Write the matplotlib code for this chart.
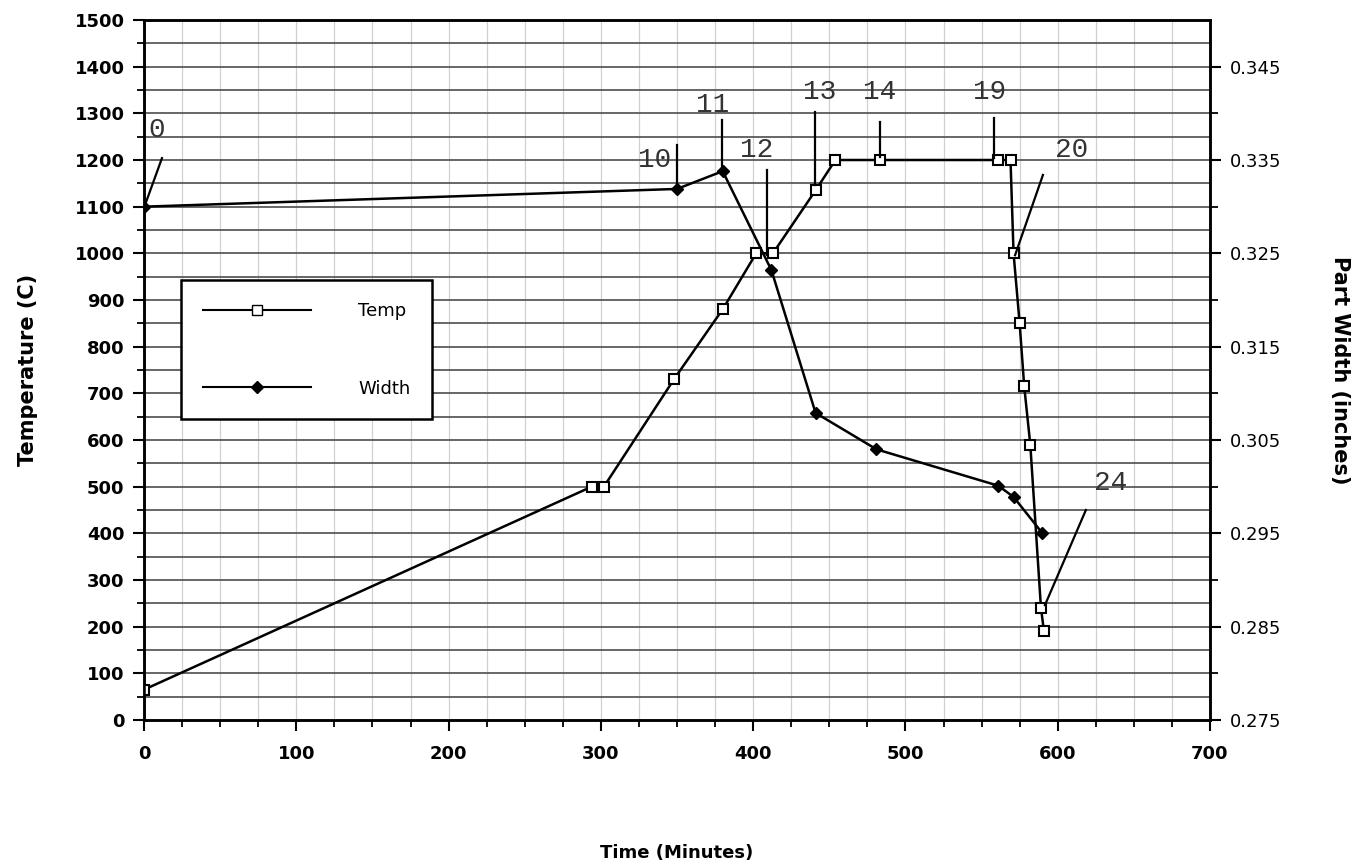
import matplotlib.pyplot as plt
from matplotlib.lines import Line2D
from matplotlib.ticker import MultipleLocator, FixedLocator
import numpy as np

# temperature profile (left axis)
temp_time = [0, 294, 302, 348, 380, 402, 413, 441, 454, 483, 561, 569, 571, 575, 578, 582, 589, 591]
temp_c = [65, 500, 500, 730, 880, 1000, 1000, 1135, 1200, 1200, 1200, 1200, 1000, 850, 715, 590, 240, 190]

# part width (right axis)
width_time = [0, 350, 380, 412, 441, 481, 561, 571, 590]
width_in = [0.330, 0.3319, 0.3338, 0.3232, 0.3079, 0.3040, 0.3001, 0.2989, 0.2950]

# step labels: text position, leader start, leader end (time, temp)
step_labels = ['0', '10', '11', '12', '13', '14', '19', '20', '24']
label_pos = [(8.5, 1264), (335, 1200), (373.5, 1318), (402.5, 1221), (443.5, 1346),
             (483.3, 1346), (555.5, 1346), (609, 1221), (635, 508)]
leader_start = [(11.8, 1204), (350, 1232), (379.5, 1286), (409, 1179), (440.6, 1303),
                (483.3, 1281), (558, 1290), (590.3, 1168), (618.5, 450)]
leader_end = [(0.7, 1104), (350, 1140), (379.5, 1179), (409, 996), (440.6, 1146),
              (483.3, 1206), (558, 1204), (572, 996), (591.6, 246)]

fig = plt.figure(figsize=(13.65, 8.65), dpi=100)
ax = fig.add_axes([144/1365, 1 - 720/865, 1066/1365, 700/865])
ax2 = ax.twinx()

ax.set_xlim(0, 700)
ax.set_ylim(0, 1500)
ax2.set_ylim(0.275, 0.35)

# grid
for x in np.arange(25, 700, 25):
    ax.axvline(x, color='#d0d0d0', lw=0.9, zorder=0)
for y in np.arange(50, 1500, 50):
    ax.axhline(y, color='#5a5a5a', lw=1.3, zorder=0)

ax.plot(temp_time, temp_c, color='black', lw=1.8, marker='s', ms=7,
        mfc='white', mec='black', mew=1.5, zorder=3)
ax2.plot(width_time, width_in, color='black', lw=1.8, marker='D', ms=6,
         mfc='black', mec='black', zorder=3)

# step annotations
for lab, tp, s, e in zip(step_labels, label_pos, leader_start, leader_end):
    ax.plot([s[0], e[0]], [s[1], e[1]], color='black', lw=1.6, zorder=4)
    ax.text(tp[0], tp[1], lab, fontsize=20, family='Liberation Mono',
            color='#333333', ha='center', va='center', zorder=4)

# ticks
ax.xaxis.set_major_locator(MultipleLocator(100))
ax.xaxis.set_minor_locator(MultipleLocator(25))
ax.yaxis.set_major_locator(MultipleLocator(100))
ax.yaxis.set_minor_locator(MultipleLocator(50))
ax.tick_params(axis='both', which='major', length=8, width=1.5, direction='out',
               labelsize=13, pad=6)
ax.tick_params(axis='both', which='minor', length=5, width=1.3, direction='out')
for lbl in ax.get_xticklabels() + ax.get_yticklabels():
    lbl.set_fontweight('bold')
ax.tick_params(axis='x', pad=10)

ax2.yaxis.set_major_locator(FixedLocator([0.275, 0.285, 0.295, 0.305, 0.315, 0.325, 0.335, 0.345]))
ax2.yaxis.set_minor_locator(FixedLocator([0.28, 0.29, 0.30, 0.31, 0.32, 0.33, 0.34]))
ax2.tick_params(axis='y', which='major', length=8, width=1.5, labelsize=13, pad=6)
ax2.tick_params(axis='y', which='minor', length=6, width=1.3)
ax2.set_yticklabels(['0.275', '0.285', '0.295', '0.305', '0.315', '0.325', '0.335', '0.345'])

for a in (ax, ax2):
    for sp in a.spines.values():
        sp.set_linewidth(1.8)

ax.set_xlabel('Time (Minutes)', fontsize=13, fontweight='bold', labelpad=58)
ax.set_ylabel('Temperature (C)', fontsize=15, fontweight='bold', labelpad=26)
ax2.set_ylabel('Part Width (inches)', fontsize=15, fontweight='bold',
               rotation=270, labelpad=50)

handles = [Line2D([], [], color='black', lw=1.5, marker='s', ms=7, mfc='white', mec='black'),
           Line2D([], [], color='black', lw=1.5, marker='D', ms=6, mfc='black')]
leg = ax.legend(handles, ['Temp', 'Width'], loc='upper left',
                bbox_to_anchor=(0.035, 0.628), fontsize=13, handlelength=6,
                labelspacing=3.3, borderpad=1.2, handletextpad=2.6,
                fancybox=False, framealpha=1, edgecolor='black', borderaxespad=0)
leg.get_frame().set_linewidth(1.8)
leg.set_zorder(5)

fig.savefig('out.png', dpi=100)
